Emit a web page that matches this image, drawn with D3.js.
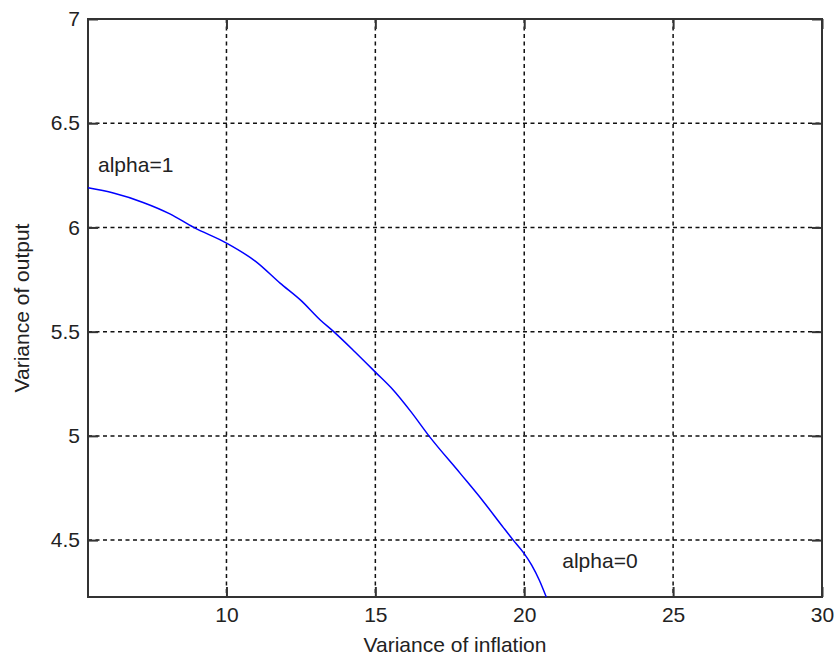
<!DOCTYPE html>
<html>
<head>
<meta charset="utf-8">
<script src="https://cdn.jsdelivr.net/npm/d3@7"></script>
<style>
  body { margin: 0; background: #fff; }
  text { font-family: "Liberation Sans", Arial, sans-serif; fill: #222; }
</style>
</head>
<body>
<script>
// Curve data
var inflationVar = [5.35, 6.2, 7.2, 8.1, 8.9, 10, 11, 11.8, 12.5, 13.15, 13.6, 14.3, 15,
                    15.6, 16.2, 16.8, 17.85, 18.6, 19.3, 19.63, 20, 20.25, 20.5, 20.74];
var outputVar = [6.19, 6.165, 6.12, 6.065, 6.0, 5.925, 5.835, 5.733, 5.65, 5.556, 5.5, 5.405, 5.306,
                 5.22, 5.115, 5.0, 4.82, 4.69, 4.56, 4.5, 4.435, 4.38, 4.31, 4.227];
var xTicks = [10, 15, 20, 25, 30];
var yTicks = [4.5, 5, 5.5, 6, 6.5, 7];
var labels = [{text: "alpha=1", x: 5.35, y: 6.19, dx: 10, dy: -16},
              {text: "alpha=0", x: 20.74, y: 4.227, dx: 16, dy: -29}];

var W = 835, H = 657;
var margin = {top: 19, right: 13, bottom: 60, left: 88};
var width = W - margin.left - margin.right,
    height = H - margin.top - margin.bottom;

var svg = d3.select("body").append("svg")
    .attr("width", W).attr("height", H);
var g = svg.append("g")
    .attr("transform", "translate(" + margin.left + "," + margin.top + ")");

var x = d3.scaleLinear().domain([5.35, 30]).range([0, width]);
var y = d3.scaleLinear().domain([4.227, 7]).range([height, 0]);

// Grid
g.append("g").selectAll("line").data(xTicks.filter(function(d) { return d < 30; }))
    .enter().append("line")
    .attr("x1", function(d) { return x(d); }).attr("x2", function(d) { return x(d); })
    .attr("y1", 0).attr("y2", height)
    .attr("stroke", "#111").attr("stroke-width", 1.5).attr("stroke-dasharray", "4,3.5");
g.append("g").selectAll("line").data(yTicks.filter(function(d) { return d < 7; }))
    .enter().append("line")
    .attr("x1", 0).attr("x2", width)
    .attr("y1", function(d) { return y(d); }).attr("y2", function(d) { return y(d); })
    .attr("stroke", "#111").attr("stroke-width", 1.5).attr("stroke-dasharray", "4,3.5");

// Axes (ticks pointing inward, also on top and right)
function styleAxis(sel) {
    sel.select(".domain").remove();
    sel.selectAll(".tick line").attr("stroke", "#333").attr("stroke-width", 2);
    sel.selectAll(".tick text").style("font-size", "21px")
        .style("font-family", "Liberation Sans, Arial, sans-serif").attr("fill", "#222");
}
g.append("g").attr("transform", "translate(0," + height + ")")
    .call(d3.axisBottom(x).tickValues(xTicks).tickFormat(d3.format("d"))
        .tickSizeInner(-10).tickPadding(10))
    .call(styleAxis);
g.append("g")
    .call(d3.axisLeft(y).tickValues(yTicks).tickFormat(d3.format("~g"))
        .tickSizeInner(-10).tickPadding(8))
    .call(styleAxis);
g.append("g")
    .call(d3.axisTop(x).tickValues(xTicks).tickSizeInner(-10).tickFormat(""))
    .call(styleAxis);
g.append("g").attr("transform", "translate(" + width + ",0)")
    .call(d3.axisRight(y).tickValues(yTicks).tickSizeInner(-10).tickFormat(""))
    .call(styleAxis);

// Box
g.append("rect").attr("width", width).attr("height", height)
    .attr("fill", "none").attr("stroke", "#333").attr("stroke-width", 2);

// Curve
var line = d3.line()
    .curve(d3.curveMonotoneX)
    .x(function(d, i) { return x(inflationVar[i]); })
    .y(function(d, i) { return y(outputVar[i]); });
g.append("path").datum(outputVar)
    .attr("d", line)
    .attr("fill", "none").attr("stroke", "#0000ff").attr("stroke-width", 1.5);

// Annotations
g.selectAll(".lbl").data(labels).enter().append("text")
    .attr("class", "lbl")
    .attr("x", function(d) { return x(d.x) + d.dx; })
    .attr("y", function(d) { return y(d.y) + d.dy; })
    .style("font-size", "21px")
    .text(function(d) { return d.text; });

// Axis titles
svg.append("text")
    .attr("x", margin.left + width / 2).attr("y", 652)
    .attr("text-anchor", "middle").style("font-size", "21px")
    .text("Variance of inflation");
svg.append("text")
    .attr("text-anchor", "middle").style("font-size", "21px")
    .attr("transform", "translate(29," + (margin.top + height / 2) + ")rotate(-90)")
    .text("Variance of output");
</script>
</body>
</html>
